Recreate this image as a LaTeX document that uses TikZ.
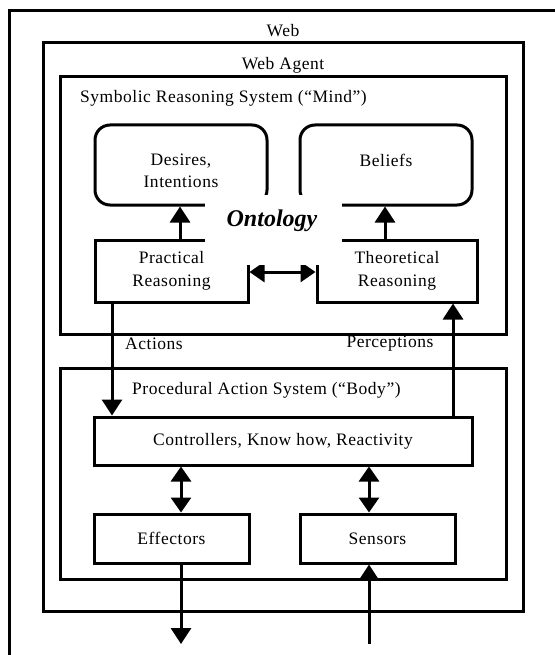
\documentclass[tikz,border=0pt]{standalone}
\usepackage{fontspec}
\setmainfont[LetterSpace=3]{Liberation Serif}
\newfontfamily\ontofont{Liberation Serif}
\usetikzlibrary{arrows.meta,calc}
\begin{document}
\begin{tikzpicture}[x=1pt,y=-1pt,
  txt/.style={font=\fontsize{17.5}{22.5}\selectfont, inner sep=0pt, align=center},
  box/.style={draw, line width=3pt, inner sep=0pt, align=center,
     font=\fontsize{17.5}{22.5}\selectfont},
  rbox/.style={box, rounded corners=15pt},
  conn/.style={line width=3pt, -{Triangle[width=20pt,length=16pt]}},
  dconn/.style={line width=3pt, {Triangle[width=20pt,length=15pt]}-{Triangle[width=20pt,length=15pt]}}
]
\useasboundingbox (0,0) rectangle (554,655);
\fill[white] (0,0) rectangle (554,655);
% Web (cut off at right and bottom)
\draw[line width=3pt] (9,680) -- (9,11) -- (580,11);
\node[txt] (lweb) at (283,31) {Web};
% Web Agent
\node[box, minimum width=480pt, minimum height=568pt] (agent) at (283,327) {};
\node[txt] (lagent) at (283,65) {Web Agent};
% Mind
\node[box, minimum width=446pt, minimum height=257pt] (mind) at (283,205.5) {};
\node[txt, anchor=west] (lmind) at (80,98) {Symbolic Reasoning System (“Mind”)};
% Body
\node[box, minimum width=446pt, minimum height=211pt] (body) at (283,473.5) {};
\node[txt, anchor=west] (lbody) at (132,390) {Procedural Action System (“Body”)};
% Mind contents
\node[rbox, minimum width=172pt, minimum height=80pt] (desires) at (181,165) {};
\node[txt] (ldesires) at (181,171) {Desires,\\Intentions};
\node[rbox, minimum width=172pt, minimum height=80pt] (beliefs) at (386,165) {};
\node[txt] (lbeliefs) at (386,160) {Beliefs};
\node[box, minimum width=153pt, minimum height=62pt] (practical) at (171.5,271) {Practical\\Reasoning};
\node[box, minimum width=160pt, minimum height=62pt] (theoretical) at (397,271) {Theoretical\\Reasoning};
% Body contents
\node[box, minimum width=378pt, minimum height=48pt] (ctrl) at (283,441) {Controllers, Know how, Reactivity};
\node[box, minimum width=155pt, minimum height=49pt] (effectors) at (171.5,538.5) {Effectors};
\node[box, minimum width=155pt, minimum height=49pt] (sensors) at (377.5,538.5) {Sensors};
% x positions of connectors
\coordinate (xd) at (180,0);
\coordinate (xb) at (385,0);
\coordinate (xa) at (112,0);
\coordinate (xp) at (453,0);
\coordinate (xe) at (181,0);
\coordinate (xs) at (369,0);
\coordinate (yo) at (0,272);
\coordinate (outE) at (181,644);
\coordinate (inS) at (369,644);
% connectors
\draw[conn] (practical.north -| xd) -- (desires.south -| xd);
\draw[conn] (theoretical.north -| xb) -- (beliefs.south -| xb);
\draw[dconn] (practical.east |- yo) -- (theoretical.west |- yo);
\draw[conn] (practical.south -| xa) -- (ctrl.north -| xa);
\draw[conn] (ctrl.north -| xp) -- (theoretical.south -| xp);
\draw[dconn] (ctrl.south -| xe) -- (effectors.north -| xe);
\draw[dconn] (ctrl.south -| xs) -- (sensors.north -| xs);
\draw[conn] (effectors.south -| xe) -- (outE);
\draw[conn] (inS) -- (sensors.south -| xs);
\node[txt, anchor=west] (lact) at (125,344) {Actions};
\node[txt] (lperc) at (390,344) {Perceptions};
% Ontology label over the boxes
\node[fill=white, inner sep=0pt, minimum width=137pt, minimum height=70pt] (onto) at (273.5,230) {};
\node[font=\ontofont\fontsize{24}{28}\selectfont\bfseries\itshape, inner sep=0pt] (lonto) at (272,221) {Ontology};
\end{tikzpicture}
\end{document}
